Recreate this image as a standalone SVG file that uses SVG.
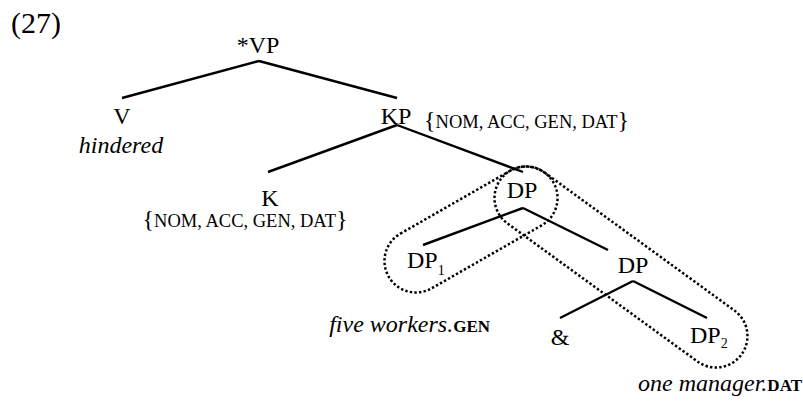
<svg xmlns="http://www.w3.org/2000/svg" width="803" height="401" viewBox="0 0 803 401">
<style>
text{font-family:"Liberation Serif","Times New Roman",serif;fill:#000}
.lab{font-size:24px;text-anchor:middle}
.it{font-style:italic}
.sc{font-size:18.5px}
.br{font-size:24px}
.bsc{font-size:17px;font-weight:bold;font-style:normal}
.sub{font-size:14px}
.edge{stroke:#000;stroke-width:2.4;fill:none;stroke-linecap:butt}
.dot{stroke:#000;stroke-width:2.5;fill:none;stroke-dasharray:2.4 2.2}
</style>
<rect width="803" height="401" fill="#fff"/>
<text x="11" y="33" font-size="30">(27)</text>
<g id="connectors">
<line class="edge" x1="259" y1="61" x2="122" y2="98"/>
<line class="edge" x1="259" y1="61" x2="397" y2="98"/>
<line class="edge" x1="397" y1="125" x2="268" y2="172"/>
<line class="edge" x1="397" y1="125" x2="523" y2="172"/>
<line class="edge" x1="523" y1="208" x2="423" y2="245"/>
<line class="edge" x1="523" y1="208" x2="608" y2="250"/>
<line class="edge" x1="633" y1="281" x2="560" y2="318"/>
<line class="edge" x1="633" y1="281" x2="707" y2="318"/>
</g>
<g id="groupings">
<rect class="dot" transform="translate(416,261) rotate(-29.8)" x="-31.5" y="-31.5" width="189.8" height="63" rx="31.5"/>
<rect class="dot" transform="translate(526,198) rotate(36)" x="-31.5" y="-31.5" width="297.8" height="63" rx="31.5"/>
</g>
<g id="n-vp"><text class="lab" x="258" y="53" font-size="22">*VP</text></g>
<g id="n-v">
<text class="lab" x="122" y="124">V</text>
<text class="lab it" x="121" y="153">hindered</text>
</g>
<g id="n-kp">
<text class="lab" x="396" y="124">KP</text>
<text x="424" y="128"><tspan class="br">{</tspan><tspan class="sc">NOM, ACC, GEN, DAT</tspan><tspan class="br">}</tspan></text>
</g>
<g id="n-k">
<text class="lab" x="270" y="206">K</text>
<text x="245" y="227" text-anchor="middle"><tspan class="br">{</tspan><tspan class="sc">NOM, ACC, GEN, DAT</tspan><tspan class="br">}</tspan></text>
</g>
<g id="n-dp"><text class="lab" x="522" y="198">DP</text></g>
<g id="n-dp1">
<text x="407" y="268" font-size="24">DP<tspan class="sub" dy="7">1</tspan></text>
<text x="490" y="332" text-anchor="end" font-size="24" class="it">five workers.<tspan class="bsc">GEN</tspan></text>
</g>
<g id="n-dp-low"><text class="lab" x="633" y="273">DP</text></g>
<g id="n-amp"><text class="lab" x="560" y="345">&amp;</text></g>
<g id="n-dp2">
<text x="690" y="343" font-size="24">DP<tspan class="sub" dy="5">2</tspan></text>
<text x="802" y="391" text-anchor="end" font-size="24" class="it">one manager.<tspan class="bsc">DAT</tspan></text>
</g>
</svg>
